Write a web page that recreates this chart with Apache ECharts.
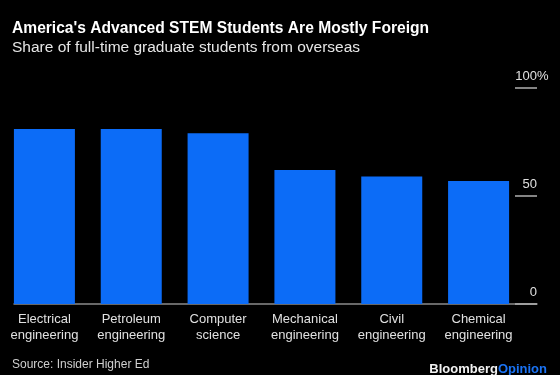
<!DOCTYPE html>
<html>
<head>
<meta charset="utf-8">
<script src="https://cdn.jsdelivr.net/npm/echarts@6/dist/echarts.min.js"></script>
<style>
  html, body { margin: 0; padding: 0; background: #000; }
  #chart { width: 560px; height: 375px; }
</style>
</head>
<body>
<div id="chart"></div>
<script>
const chart = echarts.init(document.getElementById("chart"));

const categories = [
  "Electrical\nengineering",
  "Petroleum\nengineering",
  "Computer\nscience",
  "Mechanical\nengineering",
  "Civil\nengineering",
  "Chemical\nengineering"
];
const shareForeign = [81, 81, 79, 62, 59, 57];
const yTicks = [0, 50, 100];

const font = "Liberation Sans";
const blue = "#0c6cf7";

const option = {
  backgroundColor: "#000",
  textStyle: { fontFamily: font },
  title: [
    {
      text: "America's Advanced STEM Students Are Mostly Foreign",
      subtext: "Share of full-time graduate students from overseas",
      left: 7,
      top: 16,
      itemGap: 3,
      textStyle: { color: "#fff", fontSize: 15.6, fontWeight: "bold", fontFamily: font },
      subtextStyle: { color: "#e6e6e6", fontSize: 15.5, fontFamily: font }
    },
    {
      text: "Source: Insider Higher Ed",
      left: 7,
      top: 354,
      textStyle: { color: "#cfcfcf", fontSize: 12, fontWeight: "normal", fontFamily: font }
    },
    {
      text: "{b|Bloomberg}{o|Opinion}",
      right: 8,
      top: 358,
      textStyle: {
        fontFamily: font,
        rich: {
          b: { color: "#f2f2f2", fontSize: 13, fontWeight: "bold", fontFamily: font },
          o: { color: "#1a73f5", fontSize: 13, fontWeight: "bold", fontFamily: font }
        }
      }
    }
  ],
  grid: [
    { left: 1, right: 38, top: 88, bottom: 71 },
    { left: 14, right: 23, top: 88, bottom: 71 }
  ],
  xAxis: [
    {
      type: "category",
      gridIndex: 0,
      data: categories,
      axisLine: { show: false },
      axisTick: { show: false },
      axisLabel: {
        color: "#e0e0e0",
        fontSize: 13,
        lineHeight: 16,
        margin: 7,
        interval: 0
      }
    },
    {
      type: "value",
      gridIndex: 1,
      min: 0,
      max: 1,
      axisLine: { show: true, onZero: false, lineStyle: { color: "#8a8a8a", width: 1.5 } },
      axisTick: { show: false },
      axisLabel: { show: false },
      splitLine: { show: false }
    }
  ],
  yAxis: [
    { type: "value", gridIndex: 0, min: 0, max: 100, show: false },
    {
      type: "value",
      gridIndex: 1,
      position: "right",
      min: yTicks[0],
      max: yTicks[yTicks.length - 1],
      interval: 50,
      axisLine: { show: false, onZero: false },
      axisTick: { show: true, inside: true, length: 22, lineStyle: { color: "#b0b0b0", width: 1.5 } },
      splitLine: { show: false },
      axisLabel: {
        inside: true,
        margin: 0,
        verticalAlign: "bottom",
        padding: [0, 0, 5, 0],
        color: "#e0e0e0",
        fontSize: 13,
        formatter: function (v) {
          return v === 100 ? "{n|100}{p|%}" : "{n|" + v + "}";
        },
        rich: {
          n: { color: "#e0e0e0", fontSize: 13, fontFamily: font, align: "left" },
          p: { color: "#e0e0e0", fontSize: 13, fontFamily: font, align: "left", width: 0 }
        }
      }
    }
  ],
  series: [
    {
      type: "bar",
      xAxisIndex: 0,
      yAxisIndex: 0,
      data: shareForeign,
      barWidth: 61,
      itemStyle: { color: blue },
      silent: true
    }
  ]
};

chart.setOption(option);

window.addEventListener("resize", function () {
  chart.resize();
});
</script>
</body>
</html>
